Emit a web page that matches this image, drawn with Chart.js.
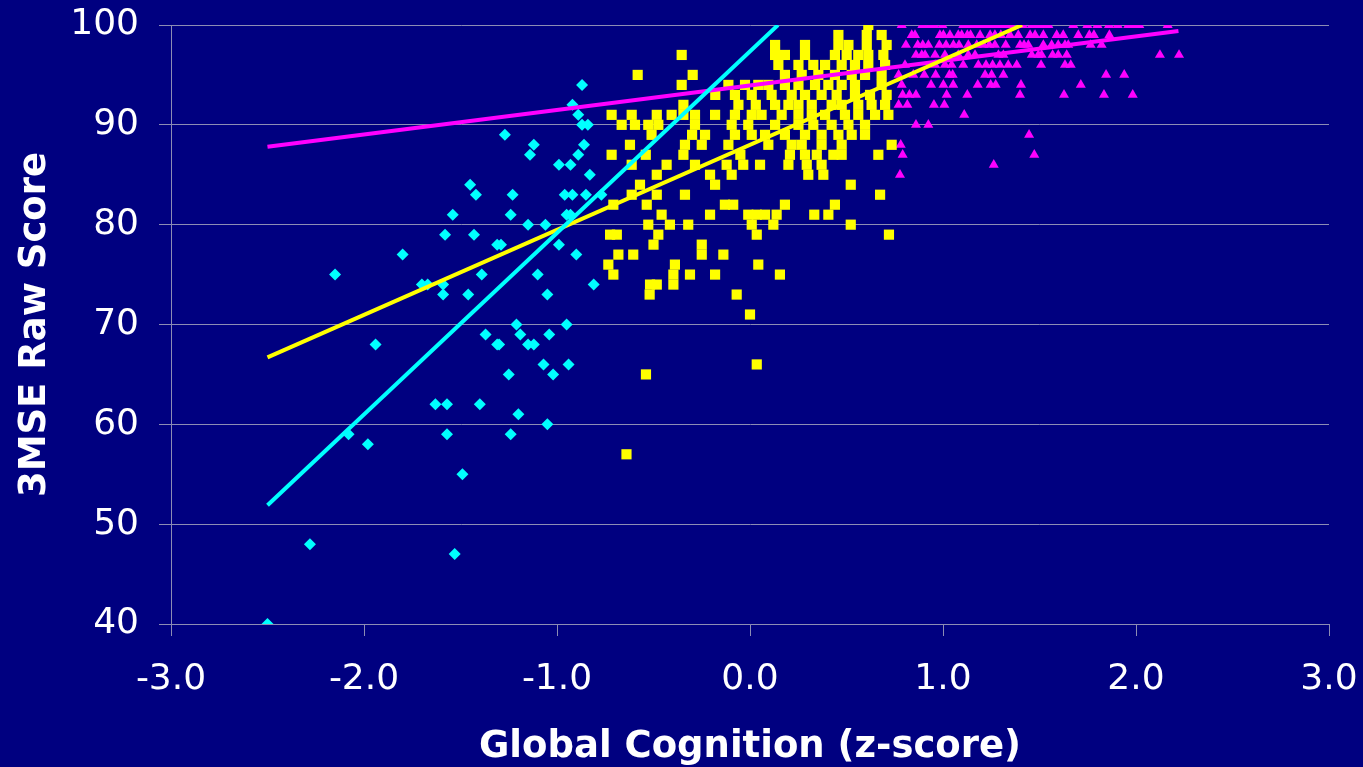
<!DOCTYPE html>
<html>
<head>
<meta charset="utf-8">
<script src="https://cdn.jsdelivr.net/npm/chart.js@4"></script>
<style>
  html, body { margin: 0; padding: 0; background: #000080; }
  #wrap { width: 1363px; height: 767px; position: relative; }
</style>
</head>
<body>
<div id="wrap"><canvas id="c"></canvas></div>
<script>
// ---- data (x = Global Cognition z-score, y = 3MSE raw score) ----
const xTickLabels = ['-3.0', '-2.0', '-1.0', '0.0', '1.0', '2.0', '3.0'];
const yTickLabels = ['40', '50', '60', '70', '80', '90', '100'];
const xAxisTitle = 'Global Cognition (z-score)';
const yAxisTitle = '3MSE Raw Score';

const cyanPoints = [
  [-0.87,94],[-0.92,92],[-0.89,91],[-0.87,90],[-0.84,90],[-1.27,89],[-1.12,88],[-1.14,87],
  [-0.86,88],[-0.89,87],[-0.99,86],[-0.93,86],[-0.83,85],[-1.45,84],[-1.42,83],[-1.23,83],
  [-0.96,83],[-0.92,83],[-0.85,83],[-0.77,83],[-1.54,81],[-1.24,81],[-0.95,81],[-0.93,81],
  [-1.58,79],[-1.43,79],[-1.15,80],[-1.06,80],[-1.80,77],[-1.31,78],[-1.29,78],[-0.99,78],
  [-0.90,77],[-2.15,75],[-1.70,74],[-1.67,74],[-1.59,74],[-1.59,73],[-1.46,73],[-1.39,75],
  [-1.10,75],[-1.05,73],[-0.81,74],[-1.94,68],[-1.21,70],[-0.95,70],[-1.37,69],[-1.19,69],
  [-1.04,69],[-1.31,68],[-1.30,68],[-1.15,68],[-1.12,68],[-1.07,66],[-0.94,66],[-1.25,65],
  [-1.02,65],[-1.63,62],[-1.57,62],[-1.40,62],[-1.20,61],[-1.05,60],[-1.57,59],[-1.24,59],
  [-2.08,59],[-1.98,58],[-1.49,55],[-2.28,48],[-1.53,47],[-2.50,40]
];

const yellowPoints = [
  [0.613,100],
  [0.458,99],[0.605,99],[0.682,99],
  [0.13,98],[0.285,98],[0.458,98],[0.51,98],[0.605,98],[0.708,98],
  [-0.354,97],[0.13,97],[0.181,97],[0.285,97],[0.44,97],[0.501,97],[0.561,97],[0.613,97],[0.691,97],
  [0.147,96],[0.251,96],[0.328,96],[0.389,96],[0.475,96],[0.544,96],[0.613,96],[0.70,96],
  [-0.582,95],[-0.297,95],[0.181,95],[0.268,95],[0.354,95],[0.44,95],[0.527,95],[0.596,95],[0.682,95],
  [-0.354,94],[-0.112,94],[-0.026,94],[0.043,94],[0.095,94],[0.181,94],[0.251,94],[0.337,94],[0.406,94],[0.475,94],[0.544,94],[0.682,94],
  [-0.18,93],[-0.078,93],[0.009,93],[0.112,93],[0.216,93],[0.285,93],[0.371,93],[0.449,93],[0.544,93],[0.622,93],[0.708,93],
  [-0.345,92],[-0.06,92],[0.03,92],[0.13,92],[0.199,92],[0.251,92],[0.32,92],[0.423,92],[0.475,92],[0.561,92],[0.63,92],[0.70,92],
  [-0.717,91],[-0.613,91],[-0.483,91],[-0.406,91],[-0.345,91],[-0.285,91],[-0.181,91],[-0.078,91],[0.009,91],[0.06,91],[0.164,91],[0.251,91],[0.32,91],[0.389,91],[0.492,91],[0.561,91],[0.648,91],[0.717,91],
  [-0.665,90],[-0.596,90],[-0.527,90],[-0.475,90],[-0.285,90],[-0.095,90],[-0.009,90],[0.13,90],[0.251,90],[0.328,90],[0.423,90],[0.51,90],[0.596,90],
  [-0.51,89],[-0.30,89],[-0.233,89],[-0.078,89],[0.009,89],[0.078,89],[0.181,89],[0.285,89],[0.371,89],[0.458,89],[0.527,89],[0.596,89],
  [-0.622,88],[-0.337,88],[-0.25,88],[-0.112,88],[0.095,88],[0.216,88],[0.268,88],[0.371,88],[0.475,88],[0.734,88],
  [-0.717,87],[-0.54,87],[-0.345,87],[-0.05,87],[0.207,87],[0.285,87],[0.346,87],[0.432,87],[0.475,87],[0.665,87],
  [-0.613,86],[-0.432,86],[-0.285,86],[-0.121,86],[-0.035,86],[0.052,86],[0.199,86],[0.294,86],[0.371,86],
  [-0.483,85],[-0.207,85],[-0.095,85],[0.302,85],[0.38,85],
  [-0.57,84],[-0.181,84],[0.522,84],
  [-0.613,83],[-0.483,83],[-0.337,83],[0.674,83],
  [-0.708,82],[-0.535,82],[-0.13,82],[-0.087,82],[0.181,82],[0.44,82],
  [-0.458,81],[-0.207,81],[-0.009,81],[0.035,81],[0.078,81],[0.138,81],[0.333,81],[0.406,81],
  [-0.527,80],[-0.415,80],[-0.32,80],[0.009,80],[0.121,80],[0.522,80],
  [-0.725,79],[-0.69,79],[-0.475,79],[0.035,79],[0.72,79],
  [-0.5,78],[-0.25,78],
  [-0.682,77],[-0.605,77],[-0.25,77],[-0.138,77],
  [-0.734,76],[-0.389,76],[0.043,76],
  [-0.708,75],[-0.397,75],[-0.311,75],[-0.181,75],[0.155,75],
  [-0.518,74],[-0.483,74],[-0.397,74],
  [-0.52,73],[-0.069,73],
  [0.0,71],[0.035,66],[-0.539,65],[-0.64,57]
];

const magentaPoints = [
  [0.786,100],[0.893,100],[0.933,100],[0.953,100],[0.997,100],[1.105,100],[1.126,100],[1.149,100],[1.175,100],[1.201,100],
  [1.223,100],[1.244,100],[1.278,100],[1.299,100],[1.326,100],[1.352,100],[1.413,100],[1.46,100],[1.497,100],[1.52,100],
  [1.546,100],[1.675,100],[1.748,100],[1.80,100],[1.86,100],[1.905,100],[1.96,100],[1.995,100],[2.017,100],[2.164,100],
  [0.838,99],[0.855,99],[0.984,99],[1.002,99],[1.036,99],[1.079,99],[1.097,99],[1.126,99],[1.143,99],[1.192,99],
  [1.244,99],[1.269,99],[1.30,99],[1.347,99],[1.39,99],[1.451,99],[1.477,99],[1.52,99],[1.589,99],[1.623,99],
  [1.701,99],[1.758,99],[1.782,99],[1.862,99],
  [0.808,98],[0.869,98],[0.895,98],[0.924,98],[0.981,98],[1.016,98],[1.054,98],[1.083,98],[1.131,98],[1.175,98],
  [1.209,98],[1.24,98],[1.269,98],[1.325,98],[1.399,98],[1.42,98],[1.442,98],[1.52,98],[1.563,98],[1.597,98],
  [1.632,98],[1.649,98],[1.765,98],[1.822,98],
  [0.86,97],[0.89,97],[0.907,97],[0.959,97],[1.01,97],[1.079,97],[1.131,97],[1.166,97],[1.287,97],[1.313,97],
  [1.46,97],[1.494,97],[1.511,97],[1.568,97],[1.597,97],[1.641,97],[2.124,97],[2.223,97],
  [0.803,96],[0.959,96],[1.01,96],[1.045,96],[1.105,96],[1.183,96],[1.223,96],[1.257,96],[1.295,96],[1.338,96],
  [1.382,96],[1.508,96],[1.632,96],[1.662,96],
  [0.77,95],[0.846,95],[0.903,95],[0.962,95],[1.033,95],[1.05,95],[1.218,95],[1.252,95],[1.313,95],[1.845,95],[1.939,95],
  [0.786,94],[0.938,94],[1.002,94],[1.053,94],[1.18,94],[1.247,94],[1.273,94],[1.404,94],[1.714,94],
  [0.791,93],[0.826,93],[0.86,93],[1.019,93],[1.126,93],[1.399,93],[1.627,93],[1.834,93],[1.983,93],
  [0.77,92],[0.815,92],[0.953,92],[1.007,92],
  [1.11,91],[0.86,90],[0.924,90],[1.446,89],[0.781,88],[0.791,87],[1.473,87],[1.263,86],[0.777,85]
];

// fitted regression lines, as [start, end] points
const cyanFit = [[-2.5, 51.9], [0.145, 100]];
const yellowFit = [[-2.5, 66.7], [1.41, 100]];
const magentaFit = [[-2.5, 87.8], [2.22, 99.4]];

const toXY = arr => arr.map(p => ({ x: p[0], y: p[1] }));

const BG = '#000080';
const GRID = '#8c8cb4';
const FONT = "'DejaVu Sans', Verdana, sans-serif";

const bgPlugin = {
  id: 'bg',
  beforeDraw(chart) {
    const c = chart.ctx;
    c.save();
    c.fillStyle = BG;
    c.fillRect(0, 0, chart.width, chart.height);
    c.restore();
  }
};

new Chart(document.getElementById('c'), {
  type: 'scatter',
  data: {
    datasets: [
      { type: 'line', data: toXY(cyanFit), borderColor: '#00ffff', borderWidth: 4, pointRadius: 0, fill: false, order: 0 },
      { type: 'line', data: toXY(yellowFit), borderColor: '#ffff00', borderWidth: 4, pointRadius: 0, fill: false, order: 0 },
      { type: 'line', data: toXY(magentaFit), borderColor: '#ff00ff', borderWidth: 4, pointRadius: 0, fill: false, order: 0 },
      { data: toXY(magentaPoints), pointStyle: 'triangle', pointRadius: 5.8, backgroundColor: '#ff00ff', borderColor: '#ff00ff', pointBorderWidth: 0, order: 3 },
      { data: toXY(yellowPoints), pointStyle: 'rect', pointRadius: 7.2, backgroundColor: '#ffff00', borderColor: '#ffff00', pointBorderWidth: 0, order: 2 },
      { data: toXY(cyanPoints), pointStyle: 'rectRot', pointRadius: 6, backgroundColor: '#00ffff', borderColor: '#00ffff', pointBorderWidth: 0, order: 1 }
    ]
  },
  options: {
    responsive: true,
    maintainAspectRatio: false,
    animation: false,
    events: [],
    layout: { padding: { top: 25, right: 34, left: 0, bottom: 0 } },
    plugins: { legend: { display: false }, tooltip: { enabled: false } },
    scales: {
      x: {
        type: 'linear', min: -3, max: 3,
        ticks: {
          stepSize: 1, color: '#ffffff', padding: 22,
          font: { family: FONT, size: 36 },
          callback: (v, i) => xTickLabels[i]
        },
        grid: { drawOnChartArea: false, drawTicks: true, tickLength: 12, color: GRID, lineWidth: 1 },
        border: { display: true, color: GRID, width: 1 },
        title: { display: true, text: xAxisTitle, color: '#ffffff', font: { family: FONT, size: 37, weight: 'bold' }, padding: { top: 0, bottom: -3 } },
        afterFit: s => { s.height = 143; s.paddingLeft = 0; s.paddingRight = 0; }
      },
      y: {
        type: 'linear', min: 40, max: 100,
        ticks: {
          stepSize: 10, color: '#ffffff', padding: 20,
          font: { family: FONT, size: 36 },
          callback: (v, i) => yTickLabels[i]
        },
        grid: { drawOnChartArea: true, drawTicks: true, tickLength: 12, color: GRID, lineWidth: 1 },
        border: { display: true, color: GRID, width: 1 },
        title: { display: true, text: yAxisTitle, color: '#ffffff', font: { family: FONT, size: 37, weight: 'bold' }, padding: { top: 13, bottom: 0 } },
        afterFit: s => { s.width = 171; s.paddingTop = 0; s.paddingBottom = 0; }
      }
    }
  },
  plugins: [bgPlugin]
});
</script>
</body>
</html>
